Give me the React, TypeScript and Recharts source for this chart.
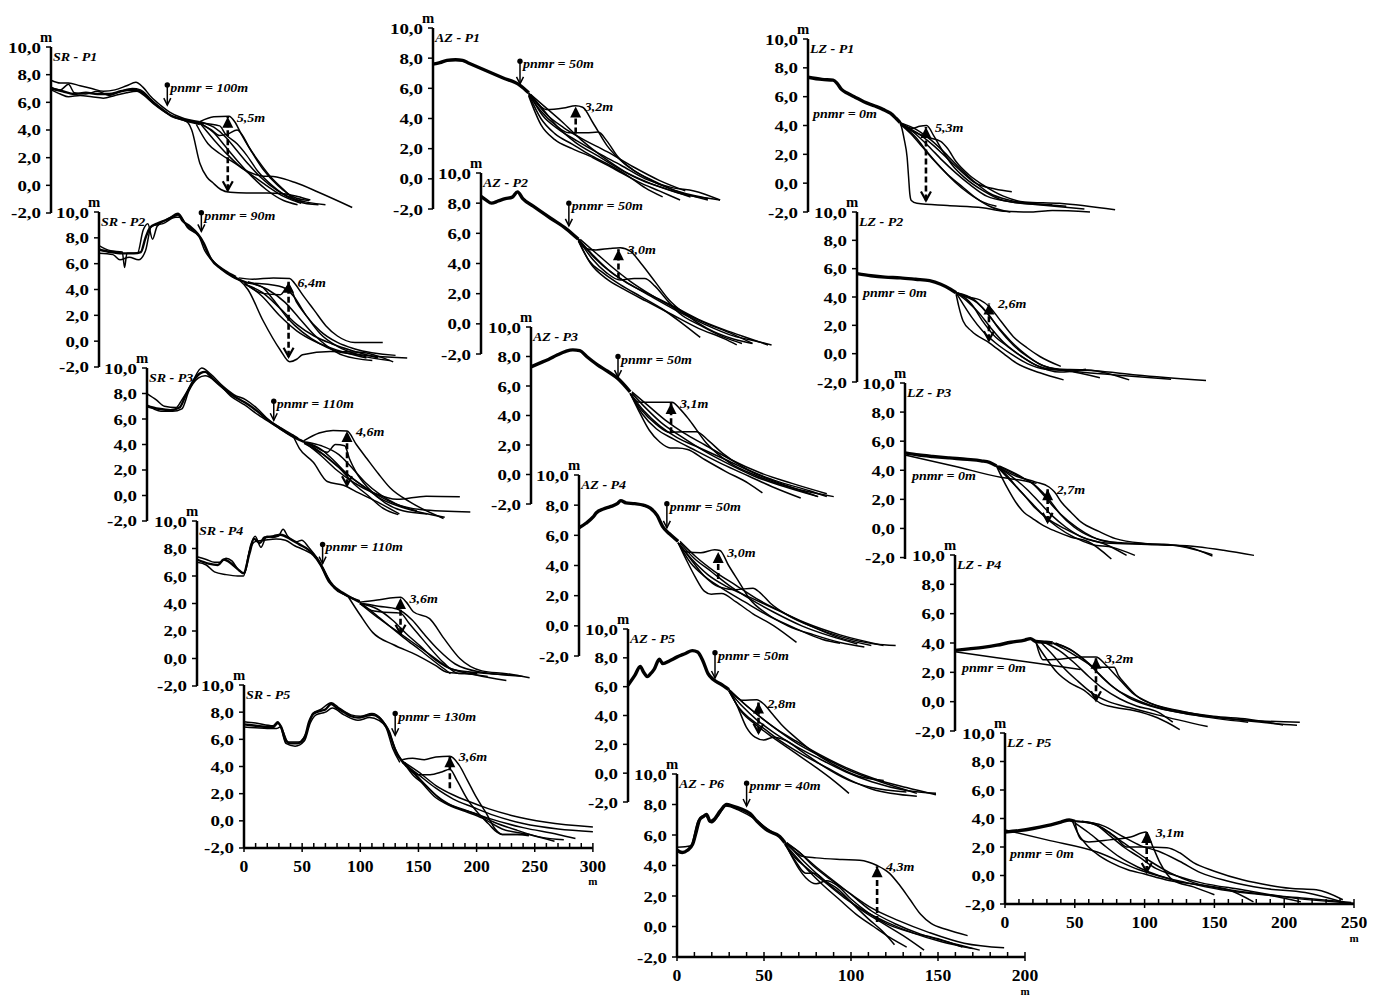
import React from 'react';
import { LineChart, Line, XAxis, YAxis, ReferenceLine, ReferenceDot } from 'recharts';

const FONT = '"Liberation Serif", "Times New Roman", serif';
const Y_TICKS = [-2, 0, 2, 4, 6, 8, 10];

// ---------- SR column ----------
const SR1_BUNDLE = [[0,7.0, 10,6.8, 20,6.6, 30,6.7, 40,6.6, 50,6.6, 60,6.8, 70,6.9, 77,6.8, 85,6.2, 94,5.6, 104,5.0, 114,4.75, 128,4.5]];
const SR1_LINES = [
  [0,7.6, 8,7.4, 15,7.4, 25,7.2, 35,7.0, 45,6.8, 55,6.9, 65,7.2, 73,7.45, 79,7.1, 86,6.4, 94,5.8, 102,5.3, 112,4.9, 128,4.6],
  [0,7.1, 8,6.9, 15,7.3, 20,6.7, 30,6.6, 40,6.8, 50,6.5, 60,6.8, 70,7.0, 77,6.9, 85,6.3, 94,5.6, 102,5.1, 112,4.8, 128,4.5],
  [0,6.9, 8,6.6, 15,6.4, 25,6.5, 35,6.4, 45,6.3, 55,6.5, 65,6.7, 74,6.8, 80,6.5, 88,5.9, 96,5.4, 104,5.0, 114,4.7, 128,4.4],
  [128,4.6, 140,4.95, 153,5.0, 158,4.6, 163,3.8, 172,2.5, 182,1.2, 195,0.0, 210,-0.9, 222,-1.1],
  [128,4.5, 138,4.0, 145,3.6, 152,3.7, 160,4.0, 164,3.7, 170,2.8, 178,1.8, 188,0.7, 200,-0.3, 213,-1.2, 230,-1.4],
  [114,4.7, 118,4.5, 121,4.0, 128,1.6, 134,0.6, 139,0.2, 146,-0.3, 154,-0.5, 168,-0.55, 185,-0.55, 200,-0.6, 212,-0.8, 223,-1.06],
  [128,4.5, 140,3.3, 152,2.2, 165,1.2, 180,0.7, 194,0.6, 210,0.2, 230,-0.5, 259,-1.6],
  [125,4.4, 135,3.0, 145,2.3, 158,1.6, 170,0.9, 185,0.0, 200,-0.8, 215,-1.3],
  [128,4.5, 140,3.8, 150,2.8, 160,1.8, 172,0.7, 185,-0.3, 200,-1.1, 212,-1.4],
  [128,4.6, 140,4.2, 150,3.5, 160,2.5, 170,1.5, 180,0.6, 195,-0.4, 210,-1.0, 236,-1.4],
  [128,4.5, 145,4.3, 150,3.7, 160,3.0, 168,2.2, 178,1.0, 190,0.0, 205,-0.9, 218,-1.2],
];

const SR2_BUNDLE = [[0,7.1, 10,6.9, 20,6.8, 30,6.8, 36,6.9, 40,8.0, 44,8.8, 50,9.1, 58,9.4, 65,9.7, 68,9.8, 72,9.3, 78,8.9, 85,8.3, 90,7.6, 96,6.4, 105,5.6, 115,5.0, 128,4.5]];
const SR2_LINES = [
  [0,7.4, 10,7.0, 20,6.9, 22,5.7, 24,6.8, 33,6.8, 38,8.6, 42,9.1, 46,7.9, 50,8.9, 60,9.5, 68,9.9, 75,9.0, 88,7.9, 93,6.9, 100,6.0, 110,5.3, 120,4.8],
  [0,6.8, 12,6.7, 18,6.3, 26,6.5, 34,6.3, 40,7.0, 45,8.9, 55,9.1, 66,9.6, 70,9.6, 76,8.8, 86,8.1, 91,7.0, 98,6.2, 108,5.5, 118,5.0],
  [120,4.9, 132,4.8, 150,4.9, 164,4.85, 168,4.5, 175,3.6, 185,2.4, 195,1.2, 205,0.4, 220,-0.1, 244,-0.1],
  [128,4.3, 141,3.7, 156,3.6, 163,4.3, 170,3.0, 178,2.0, 190,0.6, 205,-0.4, 225,-1.1, 250,-1.5],
  [115,5.0, 121,4.7, 128,4.0, 141,1.6, 156,-0.7, 164,-1.6, 170,-1.4, 175,-1.05, 199,-0.8, 225,-0.85, 253,-1.6],
  [125,4.5, 140,3.5, 155,2.0, 170,0.8, 185,0.0, 205,-0.7, 230,-1.3],
  [125,4.4, 140,3.8, 155,2.6, 170,1.3, 185,0.4, 200,-0.2, 220,-0.8, 240,-1.3],
  [128,4.6, 145,4.0, 160,3.0, 172,1.8, 185,0.5, 195,-0.3, 210,-1.1, 235,-1.5],
  [128,4.5, 140,4.2, 150,3.2, 162,1.8, 175,0.7, 190,-0.2, 210,-0.9, 265,-1.3],
  [128,4.5, 145,4.4, 160,4.1, 168,3.4, 178,2.0, 190,0.8, 205,-0.1, 220,-0.6, 255,-1.1],
];

const SR3_BUNDLE = [[0,7.0, 10,6.8, 20,6.7, 28,6.9, 33,7.8, 40,9.0, 46,9.6, 50,9.7, 56,9.2, 62,8.7, 70,8.1, 78,7.6, 86,7.2, 95,6.6, 103,6.0, 114,5.3, 126,4.6, 135,4.2]];
const SR3_LINES = [
  [0,8.0, 8,7.5, 15,7.0, 25,6.9, 30,7.5, 38,8.7, 47,10.0, 55,9.5, 65,8.6, 75,7.9, 85,7.5, 95,6.8, 105,5.9, 117,5.2, 130,4.5],
  [0,7.1, 12,6.6, 22,6.6, 30,6.8, 36,8.2, 44,9.2, 50,9.4, 60,8.9, 72,7.8, 84,7.1, 96,6.3, 108,5.6, 120,4.9, 133,4.3],
  [135,4.3, 148,4.9, 160,5.1, 172,5.05, 180,4.0, 189,2.9, 199,1.7, 209,0.6, 226,-0.5, 255,-1.8],
  [133,4.3, 145,3.8, 155,3.4, 162,4.0, 170,3.9, 174,2.9, 180,1.8, 190,0.6, 205,-0.6, 220,-1.2, 241,-1.45],
  [125,4.8, 131,3.7, 143,2.6, 155,1.1, 169,0.8, 182,0.2, 200,-0.6, 217,-1.45],
  [135,4.2, 150,3.1, 163,2.0, 178,1.0, 195,0.2, 215,-0.3, 240,-0.05, 269,-0.1],
  [135,4.1, 150,3.3, 165,2.2, 180,1.1, 195,0.2, 212,-0.6, 235,-1.1, 278,-1.3],
  [138,4.1, 152,3.2, 165,2.2, 178,0.9, 190,0.0, 203,-1.0, 216,-1.5],
  [136,4.2, 150,3.6, 160,2.8, 172,1.7, 185,0.8, 200,-0.2, 222,-1.0, 256,-1.7],
  [137,4.2, 150,3.9, 165,3.2, 175,2.3, 188,1.0, 200,0.1, 215,-0.7, 232,-1.2],
];

const SR4_BUNDLE = [[0,7.2, 10,6.9, 18,6.8, 23,7.2, 28,7.0, 35,6.5, 40,6.2, 45,7.6, 49,8.7, 54,8.4, 58,8.8, 66,8.9, 72,9.0, 80,8.7, 88,8.3, 96,7.9, 103,7.3, 108,6.6, 112,5.9, 117,5.3, 125,4.8, 133,4.4, 140,4.1]];
const SR4_LINES = [
  [0,7.4, 8,7.2, 15,7.0, 20,7.0, 25,7.3, 30,7.1, 36,6.4, 41,6.2, 46,8.2, 50,8.9, 55,8.1, 60,8.9, 65,8.8, 70,8.9, 74,9.4, 78,8.9, 86,8.5, 90,8.6, 96,8.1, 104,7.2, 110,6.3, 118,5.1, 128,4.6, 140,4.2],
  [0,7.0, 8,6.8, 15,6.3, 25,6.1, 35,6.0, 40,6.0, 45,7.8, 50,8.5, 58,8.6, 68,8.7, 76,8.6, 84,8.2, 92,7.9, 100,7.5, 106,6.8, 113,5.6, 122,4.9, 135,4.3],
  [140,4.1, 155,4.25, 166,4.4, 175,4.45, 180,4.1, 186,3.4, 200,2.9, 212,1.5, 226,0.0, 245,-0.9, 266,-1.1, 286,-1.4],
  [140,4.0, 150,3.5, 157,3.4, 175,3.3, 182,2.6, 190,1.8, 200,0.8, 212,-0.3, 225,-1.1, 241,-1.1],
  [130,4.5, 140,3.2, 151,1.9, 169,1.0, 189,0.25, 205,-0.5, 215,-1.0, 230,-1.1, 250,-1.3],
  [140,4.0, 155,3.0, 170,2.1, 185,1.2, 200,0.3, 215,-0.6, 240,-1.2, 266,-1.6],
  [140,4.1, 152,3.3, 165,2.4, 178,1.5, 192,0.6, 210,-0.6, 218,-1.1],
  [140,4.0, 155,3.6, 168,2.8, 180,1.8, 192,0.9, 205,-0.1, 220,-0.8, 250,-1.1, 280,-1.3],
  [142,4.0, 156,3.8, 172,3.6, 185,2.8, 195,1.8, 208,0.6, 222,-0.4, 245,-1.0, 270,-1.2],
];

const SR5_BUNDLE = [[0,7.1, 10,7.0, 20,6.9, 25,6.9, 29,7.2, 32,6.9, 36,5.9, 40,5.7, 46,5.7, 52,6.1, 56,7.3, 60,7.9, 66,8.1, 70,8.2, 75,8.6, 80,8.3, 86,8.0, 92,7.7, 98,7.6, 104,7.7, 110,7.8, 116,7.6, 121,7.1, 125,6.5, 128,5.7, 131,5.0, 135,4.5, 140,4.0]];
const SR5_LINES = [
  [0,7.3, 10,7.2, 25,7.0, 29,7.3, 33,6.7, 38,5.8, 47,5.8, 55,6.8, 59,7.9, 66,8.2, 75,8.7, 82,8.3, 92,7.8, 100,7.7, 110,7.9, 118,7.5, 124,6.7, 130,5.3, 136,4.4],
  [0,6.9, 10,6.85, 20,6.8, 28,6.8, 31,6.9, 36,5.7, 44,5.5, 52,5.9, 57,7.2, 62,7.8, 70,8.0, 76,8.3, 86,7.8, 98,7.4, 108,7.6, 116,7.4, 122,6.9, 128,5.3, 134,4.3],
  [136,4.5, 145,4.6, 155,4.5, 165,4.7, 177,4.75, 185,4.1, 192,3.0, 200,1.7, 208,0.6, 216,-0.6, 222,-1.0, 235,-1.0, 245,-1.1],
  [138,4.2, 150,3.4, 160,3.4, 170,3.6, 177,3.8, 183,3.0, 192,1.6, 200,0.7, 210,-0.2, 217,-0.8, 222,-1.0, 243,-1.0],
  [138,4.2, 146,3.3, 155,2.7, 165,1.9, 175,1.3, 190,0.8, 210,0.2, 240,-0.5, 270,-1.0, 285,-1.3],
  [136,4.4, 150,3.6, 165,2.6, 180,1.9, 194,1.4, 210,0.9, 230,0.4, 260,-0.1, 300,-0.45],
  [136,4.3, 150,3.4, 165,2.4, 180,1.6, 197,1.0, 215,0.4, 240,-0.2, 270,-0.6, 300,-0.8],
  [135,4.5, 145,3.6, 155,2.6, 165,1.7, 175,1.2, 190,0.7, 205,0.2, 222,-0.6, 245,-1.0, 267,-1.5],
  [138,4.3, 150,3.2, 160,2.3, 170,1.5, 185,0.9, 200,0.5, 215,-0.1, 235,-0.7, 255,-1.2, 275,-1.4],
];

// ---------- AZ column ----------
const AZ1_BUNDLE = [[0,7.6, 4,7.7, 8,7.85, 13,7.9, 17,7.85, 20,7.7, 30,7.2, 40,6.7, 50,6.2, 55,5.7]];
const AZ1_LINES = [
  [55,5.7, 60,5.0, 65,4.6, 75,4.7, 82,4.85, 86,4.75, 92,3.7, 100,2.2, 110,1.0, 122,0.1, 135,-0.6, 150,-1.1, 165,-1.4],
  [55,5.6, 62,4.5, 70,3.6, 78,3.05, 88,3.05, 95,3.1, 100,2.5, 106,1.5, 115,0.6, 128,-0.2, 142,-0.9, 158,-1.4],
  [55,5.6, 62,4.0, 70,3.0, 80,2.3, 90,1.6, 100,1.0, 112,0.2, 122,-0.6, 132,-1.2],
  [55,5.5, 62,3.6, 70,2.6, 80,2.0, 92,1.4, 105,0.6, 118,-0.2, 130,-0.8, 142,-1.4],
  [56,5.6, 64,4.5, 72,3.4, 82,2.4, 95,1.5, 108,0.6, 120,-0.1, 135,-0.7, 148,-1.2],
  [56,5.6, 64,4.8, 74,3.8, 85,2.6, 97,1.5, 110,0.5, 125,-0.3, 140,-0.9, 158,-1.3],
  [56,5.5, 63,4.2, 72,3.3, 83,2.5, 95,1.7, 108,0.9, 122,0.0, 138,-0.6, 150,-0.8, 165,-1.4],
  [55,5.7, 65,4.3, 75,3.4, 85,2.7, 100,1.8, 115,0.8, 130,-0.1, 145,-0.8],
];

const AZ2_BUNDLE = [[0,8.45, 3,8.2, 6,8.0, 10,8.15, 14,8.3, 18,8.4, 21,8.75, 24,8.3, 30,7.8, 40,7.0, 49,6.3, 56,5.6]];
const AZ2_LINES = [
  [56,5.6, 60,5.0, 66,4.9, 74,5.0, 80,5.05, 86,4.8, 92,4.0, 100,2.8, 108,1.6, 118,0.6, 130,-0.3, 145,-1.0, 156,-1.3],
  [56,5.6, 64,4.3, 72,3.4, 80,2.9, 88,3.0, 94,3.0, 100,2.5, 106,1.7, 114,0.7, 126,-0.1, 140,-0.9, 150,-1.3],
  [56,5.5, 62,4.2, 70,3.4, 80,2.6, 92,1.8, 104,1.0, 116,0.0, 126,-0.9],
  [56,5.5, 63,4.0, 72,3.0, 82,2.3, 95,1.5, 110,0.6, 125,-0.3, 140,-1.0, 147,-1.4],
  [56,5.6, 65,4.4, 75,3.4, 86,2.6, 98,1.8, 112,0.9, 128,0.0, 145,-0.8, 160,-1.2, 167,-1.4],
  [57,5.6, 66,4.7, 76,3.7, 86,2.8, 98,1.9, 112,1.0, 128,0.1, 145,-0.7, 156,-1.3],
  [56,5.6, 64,4.6, 73,3.6, 84,2.7, 96,2.0, 110,1.2, 125,0.3, 140,-0.4, 155,-1.0, 165,-1.4],
];

const AZ3_BUNDLE = [[0,7.3, 5,7.55, 10,7.8, 15,8.1, 20,8.35, 24,8.45, 28,8.4, 32,8.0, 38,7.45, 44,7.0, 50,6.5, 57,5.6]];
const AZ3_LINES = [
  [57,5.5, 62,4.9, 72,4.9, 81,4.9, 86,4.4, 91,3.7, 101,2.1, 114,0.8, 130,-0.1, 150,-0.9, 174,-1.5],
  [57,5.5, 64,4.3, 72,3.4, 80,2.85, 88,2.9, 95,2.9, 102,2.3, 110,1.45, 122,0.5, 140,-0.4, 160,-1.1, 170,-1.5],
  [57,5.5, 62,4.3, 68,3.0, 74,2.2, 80,1.8, 84,1.8, 90,1.7, 100,1.0, 112,0.2, 125,-0.6, 133,-1.25],
  [57,5.5, 64,4.1, 72,3.1, 82,2.4, 95,1.6, 110,0.7, 125,-0.1, 140,-0.9, 155,-1.6],
  [58,5.5, 66,4.5, 75,3.5, 86,2.6, 98,1.7, 112,0.8, 128,-0.1, 145,-0.8, 165,-1.5],
  [58,5.6, 67,4.7, 77,3.7, 88,2.8, 100,2.0, 115,1.0, 132,0.1, 150,-0.6, 170,-1.3],
  [57,5.5, 65,4.3, 74,3.3, 84,2.5, 97,1.8, 112,1.0, 130,0.0, 148,-0.8, 165,-1.5],
];

const AZ4_BUNDLE = [[0,6.5, 4,6.8, 8,7.2, 10,7.5, 14,7.75, 18,7.9, 22,8.1, 24,8.3, 27,8.15, 32,8.1, 37,8.0, 41,7.8, 45,7.3, 48,6.6, 52,6.1, 57,5.6]];
const AZ4_LINES = [
  [57,5.5, 62,4.9, 70,4.85, 78,5.05, 81,5.0, 86,4.0, 92,2.9, 98,1.8, 108,0.8, 120,0.0, 135,-0.6, 150,-1.1, 164,-1.4],
  [57,5.5, 65,4.3, 72,3.3, 80,2.6, 90,2.4, 100,2.5, 104,2.2, 110,1.5, 120,0.7, 135,-0.1, 150,-0.7, 170,-1.2, 182,-1.3],
  [57,5.5, 62,4.3, 67,3.2, 72,2.3, 76,2.1, 82,2.15, 90,1.6, 100,0.8, 112,0.0, 125,-1.1],
  [57,5.5, 64,4.2, 72,3.3, 82,2.5, 95,1.6, 110,0.6, 125,-0.2, 140,-0.9, 150,-1.15],
  [58,5.5, 66,4.5, 76,3.6, 86,2.7, 98,1.8, 112,0.9, 128,0.0, 145,-0.7, 160,-1.2],
  [58,5.6, 67,4.6, 78,3.6, 90,2.7, 102,1.8, 117,0.9, 133,0.0, 150,-0.8, 168,-1.3],
  [57,5.5, 65,4.4, 74,3.4, 85,2.6, 98,1.9, 113,1.1, 130,0.2, 150,-0.6, 175,-1.3],
];

const AZ5_BUNDLE = [[0,6.1, 4,6.8, 7,7.4, 9,7.0, 11,6.7, 13,6.9, 15,7.2, 18,7.9, 20,7.6, 24,7.8, 28,8.05, 33,8.3, 37,8.5, 40,8.4, 43,7.8, 46,6.9, 49,6.5, 53,6.2, 58,5.8]];
const AZ5_LINES = [
  [58,5.8, 62,5.3, 66,5.05, 74,5.1, 78,4.8, 83,4.1, 88,3.4, 95,2.6, 105,1.6, 118,0.6, 132,-0.2, 147,-0.5],
  [58,5.8, 63,4.6, 68,3.2, 73,2.5, 78,2.3, 84,2.5, 90,2.3, 100,1.5, 112,0.5, 127,-0.5, 140,-1.0, 160,-1.3],
  [58,5.7, 64,4.5, 70,3.8, 78,3.1, 88,2.2, 100,1.3, 114,0.4, 128,-0.5, 140,-1.1, 166,-1.6],
  [58,5.7, 66,4.6, 74,3.7, 84,2.8, 96,1.9, 110,1.0, 125,0.1, 140,-0.6, 160,-1.2, 177,-1.4],
  [59,5.7, 67,4.8, 76,3.9, 87,2.9, 98,2.0, 112,1.1, 127,0.2, 145,-0.6, 166,-1.4],
  [58,5.7, 65,4.3, 73,3.4, 83,2.5, 95,1.5, 108,0.4, 118,-0.5, 127,-1.4],
  [58,5.8, 66,4.9, 75,4.0, 86,3.0, 97,2.2, 110,1.3, 125,0.4, 142,-0.4, 160,-1.0, 177,-1.5],
];

const AZ6_BUNDLE = [[0,5.0, 3,4.85, 6,5.0, 9,5.4, 11,6.2, 13,7.0, 15,7.2, 17,7.35, 19,6.9, 21,7.0, 25,7.6, 28.5,8.0, 32,7.9, 37,7.7, 42,7.4, 46,6.9, 52,6.3, 59,5.9, 62,5.5]];
const AZ6_LINES = [
  [0,5.2, 8,5.3, 12,6.9, 16,7.3, 20,6.8, 24,7.3, 28,7.9, 36,7.6, 44,7.1, 52,6.4, 60,5.8],
  [62,5.5, 67,5.0, 72,4.6, 80,4.5, 95,4.4, 105,4.35, 115,4.0, 122,3.5, 128,2.7, 134,1.75, 140,0.8, 146,0.2, 155,-0.2, 167,-0.6],
  [62,5.5, 66,4.6, 70,3.8, 74,3.2, 80,2.8, 86,3.0, 92,2.7, 100,1.8, 110,0.9, 120,0.2, 135,-0.4, 150,-0.8, 164,-1.35],
  [62,5.4, 68,4.3, 74,3.5, 79,3.5, 85,3.0, 92,2.5, 100,1.6, 110,0.5, 118,-0.3, 125,-1.2],
  [62,5.4, 69,4.5, 76,3.6, 84,2.7, 93,1.8, 103,0.8, 113,0.0, 122,-0.7, 132,-1.35],
  [63,5.5, 70,4.6, 78,3.7, 87,2.8, 97,1.9, 107,1.0, 117,0.3, 130,-0.6, 142,-1.55],
  [63,5.5, 71,4.8, 80,3.9, 90,3.0, 100,2.1, 112,1.0, 125,0.2, 140,-0.5, 155,-1.0, 174,-1.55],
  [62,5.5, 70,4.9, 78,4.0, 88,3.1, 99,2.2, 112,1.2, 127,0.4, 145,-0.4, 165,-1.1, 188,-1.4],
  [62,5.4, 68,4.5, 75,3.8, 85,2.9, 96,1.9, 108,1.0, 120,0.3, 135,-0.4, 152,-1.0, 170,-1.45],
];

// ---------- LZ column ----------
const LZ1_BUNDLE = [[0,7.35, 10,7.2, 18,7.15, 21,6.9, 24,6.5, 28,6.25, 34,5.95, 40,5.65, 48,5.35, 54,5.1, 59,4.85, 63,4.5, 66,4.2]];
const LZ1_LINES = [
  [66,4.2, 67,3.9, 69,3.0, 71,1.8, 72,0.5, 73,-0.8, 74,-1.2, 78,-1.4, 100,-1.55, 125,-1.7, 140,-1.95, 160,-2.0, 175,-1.9, 202,-2.0],
  [66,4.2, 75,3.8, 80,3.95, 85,4.0, 90,3.3, 96,2.3, 103,1.3, 112,0.4, 125,-0.5, 140,-1.2, 160,-1.45, 175,-1.5],
  [66,4.1, 75,3.6, 85,3.2, 95,2.9, 100,2.4, 106,1.5, 115,0.6, 125,-0.1, 140,-0.9, 155,-1.3, 180,-1.4, 220,-1.85],
  [66,4.1, 74,3.4, 82,2.5, 90,1.6, 100,0.6, 110,-0.2, 120,-1.0, 130,-1.6, 145,-2.0],
  [66,4.2, 76,3.5, 86,2.6, 96,1.6, 106,0.7, 116,-0.1, 128,-0.9, 146,-1.3, 165,-1.5, 198,-1.8],
  [67,4.1, 78,3.5, 90,2.6, 100,1.7, 110,0.8, 120,0.0, 134,-0.4, 146,-0.6],
  [67,4.1, 77,3.2, 86,2.1, 95,1.1, 105,0.1, 115,-0.7, 125,-1.3, 135,-1.6],
  [66,4.2, 78,3.7, 88,3.0, 98,2.1, 108,1.1, 118,0.2, 130,-0.7, 145,-1.2, 165,-1.45, 185,-1.6],
];

const LZ2_BUNDLE = [[0,5.65, 10,5.5, 20,5.4, 31,5.35, 42,5.25, 52,5.15, 60,4.9, 67,4.55, 71,4.3]];
const LZ2_LINES = [
  [71,4.2, 73,3.3, 76,2.3, 82,1.6, 95,0.75, 105,0.0, 114,-0.65, 131,-1.35, 148,-1.85],
  [71,4.3, 80,4.0, 88,3.8, 95,3.3, 103,2.3, 112,1.2, 122,0.4, 131,-0.2, 146,-0.9],
  [71,4.3, 76,3.5, 82,2.6, 90,1.6, 100,0.7, 110,0.0, 122,-0.7, 135,-1.1, 150,-1.2, 174,-1.7],
  [71,4.3, 80,3.6, 88,2.8, 96,1.8, 105,0.8, 115,0.0, 126,-0.7, 140,-1.1, 165,-1.15, 195,-1.85],
  [71,4.3, 84,3.8, 92,3.0, 100,2.0, 110,0.9, 120,0.0, 132,-0.8, 145,-1.1, 170,-1.2, 200,-1.5, 250,-1.9],
  [72,4.3, 82,3.5, 90,2.3, 98,1.3, 108,0.5, 118,-0.2, 130,-0.9, 145,-1.3, 164,-1.1],
  [72,4.2, 86,3.6, 94,2.8, 102,1.7, 112,0.6, 122,-0.2, 138,-1.0, 160,-1.3, 185,-1.5, 225,-1.8],
];

const LZ3_BUNDLE = [[0,5.2, 10,5.05, 20,4.95, 32,4.85, 45,4.75, 55,4.65, 61,4.55, 66,4.3]];
const LZ3_LINES = [
  [0,5.05, 35,4.3, 70,3.5, 85,3.3, 95,3.1],
  [66,4.3, 70,3.5, 75,2.6, 80,1.8, 86,1.1, 92,0.7, 100,0.2, 109,-0.2, 120,-0.6, 132,-0.9, 149,-2.1],
  [66,4.3, 80,3.6, 94,3.2, 104,2.85, 108,2.5, 113,1.8, 120,1.1, 127,0.45, 140,-0.2, 152,-0.7, 175,-1.05, 211,-1.25, 230,-1.5, 252,-1.85],
  [66,4.3, 74,3.6, 82,2.7, 92,1.7, 100,0.9, 110,0.1, 122,-0.6, 135,-1.1, 150,-1.3, 166,-1.85],
  [66,4.3, 78,3.5, 88,2.7, 97,1.8, 106,0.9, 116,0.1, 128,-0.6, 145,-1.0, 175,-1.1, 200,-1.2, 222,-1.9],
  [67,4.3, 82,3.6, 92,3.1, 100,2.3, 108,1.4, 118,0.5, 130,-0.3, 145,-0.9, 160,-1.0, 190,-1.1, 222,-1.8],
  [67,4.2, 76,3.3, 85,2.4, 94,1.4, 104,0.6, 115,0.0, 128,-0.6, 145,-1.1, 160,-1.85],
  [68,4.3, 85,3.5, 96,2.8, 104,2.0, 112,1.0, 122,0.1, 135,-0.6, 155,-1.0],
];

const LZ4_BUNDLE = [[0,3.5, 10,3.6, 20,3.7, 30,3.85, 40,4.05, 50,4.2, 54,4.3, 58,4.1, 65,4.05, 70,4.0]];
const LZ4_LINES = [
  [0,3.4, 30,3.0, 60,2.6, 75,2.4, 90,2.2],
  [58,4.1, 60,3.4, 63,2.85, 75,2.9, 92,3.05, 101,3.05, 108,2.5, 116,1.7, 127,0.6, 140,-0.1, 160,-0.6, 185,-1.0, 210,-1.2, 235,-1.6],
  [70,4.0, 80,3.5, 92,2.8, 101,2.35, 114,2.35, 117,1.8, 122,1.2, 130,0.4, 145,-0.3, 170,-0.8, 200,-1.2, 247,-1.4],
  [58,4.0, 65,3.0, 73,2.0, 82,1.3, 92,0.8, 104,-0.1, 115,-0.4, 128,-0.6, 145,-1.1, 161,-1.9],
  [62,4.0, 70,3.2, 78,2.3, 88,1.4, 98,0.6, 110,0.0, 125,-0.4, 145,-0.9, 181,-1.7],
  [65,4.0, 76,3.4, 86,2.6, 96,1.7, 106,0.9, 118,0.2, 130,-0.3, 145,-0.7, 156,-1.4],
  [70,4.0, 82,3.6, 92,2.9, 102,2.0, 112,1.1, 124,0.3, 140,-0.3, 165,-0.8, 200,-1.2, 230,-1.5, 245,-1.6],
  [72,4.0, 85,3.4, 96,2.6, 106,1.6, 116,0.8, 128,0.2, 145,-0.4, 170,-0.9, 210,-1.4],
];

const LZ5_BUNDLE = [[0,3.05, 10,3.15, 20,3.3, 30,3.5, 40,3.75, 46,3.9, 50,3.8]];
const LZ5_LINES = [
  [0,3.2, 30,2.5, 66,1.65, 96,0.4, 120,-0.3],
  [50,3.8, 52,3.0, 55,2.5, 60,2.35, 75,2.5, 90,2.7, 101,3.05, 106,2.0, 111,0.9, 120,-0.3, 135,-0.8, 150,-1.35],
  [50,3.8, 60,3.7, 70,3.3, 80,2.6, 87,2.0, 100,2.0, 116,1.95, 125,1.6, 135,0.9, 150,0.3, 170,-0.3, 190,-0.7, 204,-0.9, 223,-1.0, 242,-1.7],
  [50,3.8, 62,3.7, 72,3.2, 82,2.5, 92,1.8, 104,1.0, 118,0.2, 135,-0.5, 160,-1.0, 190,-1.4, 212,-1.85],
  [48,3.9, 52,3.0, 58,2.2, 66,1.5, 76,0.9, 88,0.4, 100,0.1, 115,-0.3, 135,-0.6, 160,-1.0, 178,-1.85],
  [50,3.8, 64,3.6, 75,2.8, 85,2.0, 96,1.3, 108,0.5, 122,0.0, 140,-0.5, 170,-1.0, 200,-1.5, 250,-1.95],
  [50,3.7, 60,3.0, 70,2.2, 82,1.3, 95,0.6, 110,0.0, 130,-0.5, 155,-1.0, 180,-1.3, 215,-1.6, 248,-1.9],
  [55,3.8, 70,3.5, 85,2.7, 97,2.1, 110,1.7, 125,1.0, 140,0.2, 160,-0.4, 185,-0.9, 215,-1.2, 243,-1.9],
];

// ---------- panel annotations ----------
type Pnmr = { x: number; top: number; tip: number; label: string };
type Range = { x: number; top: number; bottom: number; label: string; bottomHead: boolean };
type Note = { x: number; y: number; label: string };

type Cfg = {
  title: string; axisX: number; topY: number; h: number; sx: number; xMax: number;
  bundle: number[][]; lines: number[][]; bw: number; xAxis: boolean;
  pnmr?: Pnmr; range: Range; note?: Note;
};

const SR = { sx: 1.163, xMax: 300, bw: 2.4 };
const AZ = { sx: 1.74, xMax: 200, bw: 3.4 };
const LZ = { sx: 1.396, xMax: 250, bw: 3.4 };

const PANELS: Cfg[] = [
  { ...SR, title: 'SR - P1', axisX: 51, topY: 47, h: 166, bundle: SR1_BUNDLE, lines: SR1_LINES, xAxis: false,
    pnmr: { x: 100, top: 7.25, tip: 5.8, label: 'pnmr = 100m' }, range: { x: 152, top: 4.95, bottom: -0.35, label: '5,5m', bottomHead: true } },
  { ...SR, title: 'SR - P2', axisX: 99, topY: 212, h: 155, bundle: SR2_BUNDLE, lines: SR2_LINES, xAxis: false,
    pnmr: { x: 88, top: 9.95, tip: 8.5, label: 'pnmr = 90m' }, range: { x: 163, top: 4.6, bottom: -1.2, label: '6,4m', bottomHead: true } },
  { ...SR, title: 'SR - P3', axisX: 147, topY: 368, h: 153, bundle: SR3_BUNDLE, lines: SR3_LINES, xAxis: false,
    pnmr: { x: 109, top: 7.4, tip: 5.9, label: 'pnmr = 110m' }, range: { x: 172, top: 5.05, bottom: 0.8, label: '4,6m', bottomHead: true } },
  { ...SR, title: 'SR - P4', axisX: 197, topY: 521, h: 165, bundle: SR4_BUNDLE, lines: SR4_LINES, xAxis: false,
    pnmr: { x: 108, top: 8.3, tip: 6.9, label: 'pnmr = 110m' }, range: { x: 175, top: 4.4, bottom: 1.8, label: '3,6m', bottomHead: true } },
  { ...SR, title: 'SR - P5', axisX: 244, topY: 685, h: 163, bundle: SR5_BUNDLE, lines: SR5_LINES, xAxis: true,
    pnmr: { x: 130, top: 7.9, tip: 6.3, label: 'pnmr = 130m' }, range: { x: 177, top: 4.75, bottom: 2.4, label: '3,6m', bottomHead: false } },

  { ...AZ, title: 'AZ - P1', axisX: 433, topY: 28, h: 181, bundle: AZ1_BUNDLE, lines: AZ1_LINES, xAxis: false,
    pnmr: { x: 50, top: 7.8, tip: 6.3, label: 'pnmr = 50m' }, range: { x: 82, top: 4.8, bottom: 3.0, label: '3,2m', bottomHead: false } },
  { ...AZ, title: 'AZ - P2', axisX: 481, topY: 173, h: 181, bundle: AZ2_BUNDLE, lines: AZ2_LINES, xAxis: false,
    pnmr: { x: 50.5, top: 8.0, tip: 6.5, label: 'pnmr = 50m' }, range: { x: 79, top: 4.95, bottom: 3.0, label: '3,0m', bottomHead: false } },
  { ...AZ, title: 'AZ - P3', axisX: 531, topY: 327, h: 177, bundle: AZ3_BUNDLE, lines: AZ3_LINES, xAxis: false,
    pnmr: { x: 50, top: 8.0, tip: 6.6, label: 'pnmr = 50m' }, range: { x: 80.5, top: 4.85, bottom: 2.8, label: '3,1m', bottomHead: false } },
  { ...AZ, title: 'AZ - P4', axisX: 579, topY: 475, h: 181, bundle: AZ4_BUNDLE, lines: AZ4_LINES, xAxis: false,
    pnmr: { x: 50.5, top: 8.1, tip: 6.5, label: 'pnmr = 50m' }, range: { x: 80, top: 4.9, bottom: 3.1, label: '3,0m', bottomHead: false } },
  { ...AZ, title: 'AZ - P5', axisX: 628, topY: 629, h: 173, bundle: AZ5_BUNDLE, lines: AZ5_LINES, xAxis: false,
    pnmr: { x: 50, top: 8.35, tip: 6.6, label: 'pnmr = 50m' }, range: { x: 75, top: 4.9, bottom: 2.8, label: '2,8m', bottomHead: true } },
  { ...AZ, title: 'AZ - P6', axisX: 677, topY: 774, h: 183, bundle: AZ6_BUNDLE, lines: AZ6_LINES, xAxis: true,
    pnmr: { x: 40, top: 9.4, tip: 7.9, label: 'pnmr = 40m' }, range: { x: 115, top: 3.95, bottom: 0.3, label: '4,3m', bottomHead: false } },

  { ...LZ, title: 'LZ - P1', axisX: 808, topY: 39, h: 173, bundle: LZ1_BUNDLE, lines: LZ1_LINES, xAxis: false,
    note: { x: 3.6, y: 4.5, label: 'pnmr = 0m' }, range: { x: 84.5, top: 3.9, bottom: -1.2, label: '5,3m', bottomHead: true } },
  { ...LZ, title: 'LZ - P2', axisX: 857, topY: 212, h: 170, bundle: LZ2_BUNDLE, lines: LZ2_LINES, xAxis: false,
    note: { x: 4.3, y: 4.0, label: 'pnmr = 0m' }, range: { x: 94.5, top: 3.55, bottom: 0.95, label: '2,6m', bottomHead: true } },
  { ...LZ, title: 'LZ - P3', axisX: 905, topY: 383, h: 176, bundle: LZ3_BUNDLE, lines: LZ3_LINES, xAxis: false,
    note: { x: 5, y: 3.3, label: 'pnmr = 0m' }, range: { x: 103, top: 2.7, bottom: 0.45, label: '2,7m', bottomHead: true } },
  { ...LZ, title: 'LZ - P4', axisX: 955, topY: 555, h: 176, bundle: LZ4_BUNDLE, lines: LZ4_LINES, xAxis: false,
    note: { x: 5, y: 2.0, label: 'pnmr = 0m' }, range: { x: 101, top: 3.0, bottom: 0.1, label: '3,2m', bottomHead: true } },
  { ...LZ, title: 'LZ - P5', axisX: 1005, topY: 733, h: 171, bundle: LZ5_BUNDLE, lines: LZ5_LINES, xAxis: true,
    note: { x: 3.6, y: 1.2, label: 'pnmr = 0m' }, range: { x: 101.5, top: 3.05, bottom: 0.25, label: '3,1m', bottomHead: true } },
];

// ---------- rendering ----------
const YW = 64, MT = 20, MR = 70, MB = 12, XH = 40;

const pts = (a: number[]) => {
  const r: { x: number; y: number }[] = [];
  for (let i = 0; i < a.length; i += 2) r.push({ x: a[i], y: a[i + 1] });
  return r;
};

const T = ({ x, y, s = 1.12, size = 12.5, anchor = 'start', italic = true, children }: any) => (
  <text transform={`translate(${x},${y}) scale(${s},1)`} textAnchor={anchor} fontFamily={FONT}
    fontWeight="bold" fontStyle={italic ? 'italic' : 'normal'} fontSize={size} fill="#000">{children}</text>
);

const YTick = (props: any) => {
  const { x, y, payload } = props;
  const v = payload.value as number;
  const s = v.toFixed(1).replace('.', ',');
  return (
    <g>
      <T x={x} y={y + 5.5} s={1.22} size={15.5} anchor="end" italic={false}>{s}</T>
      {v === 10 && <T x={x - 1} y={y - 5} s={1.05} size={14} italic={false}>m</T>}
    </g>
  );
};

const XTick = (props: any) => {
  const { x, y, payload, xMax } = props;
  const v = payload.value as number;
  const major = v % 50 === 0;
  return (
    <g>
      <line x1={x} x2={x} y1={major ? y + 4 : y} y2={y - 5} stroke="#000" strokeWidth={1.5} />
      {major && <T x={x} y={y + 24} s={1.1} size={16} anchor="middle" italic={false}>{v}</T>}
      {v === xMax && <T x={x} y={y + 37.5} s={1.05} size={10.5} anchor="middle" italic={false}>m</T>}
    </g>
  );
};

function Panel({ c }: { c: Cfg }) {
  const plotW = c.xMax * c.sx;
  const W = YW + plotW + MR;
  const H = MT + c.h + (c.xAxis ? XH : MB);
  const xt: number[] = [];
  for (let v = 0; v <= c.xMax; v += 10) xt.push(v);
  return (
    <div style={{ position: 'absolute', left: c.axisX - YW, top: c.topY - MT }}>
      <LineChart width={W} height={H} margin={{ top: MT, right: MR, left: 0, bottom: c.xAxis ? 0 : MB }}>
        <XAxis type="number" dataKey="x" domain={[0, c.xMax]} hide={!c.xAxis} ticks={xt} interval={0}
          tickSize={0} tickMargin={0} height={XH} tickLine={false}
          axisLine={{ stroke: '#000', strokeWidth: 2.5 }} tick={<XTick xMax={c.xMax} />} />
        <YAxis type="number" domain={[-2, 10]} ticks={Y_TICKS} interval={0} width={YW}
          tickSize={5} tickMargin={5} axisLine={{ stroke: '#000', strokeWidth: 2.5 }}
          tickLine={{ stroke: '#000', strokeWidth: 1.5 }} tick={<YTick />} />
        {c.lines.map((l, i) => (
          <Line key={'l' + i} data={pts(l)} dataKey="y" type="monotone" stroke="#000" strokeWidth={1.5}
            dot={false} activeDot={false} isAnimationActive={false} />
        ))}
        {c.bundle.map((l, i) => (
          <Line key={'b' + i} data={pts(l)} dataKey="y" type="monotone" stroke="#000" strokeWidth={c.bw}
            dot={false} activeDot={false} isAnimationActive={false} />
        ))}
        <ReferenceDot x={0} y={10} r={0}
          shape={(p: any) => <T x={p.cx + 2} y={p.cy + 14}>{c.title}</T>} />
        {c.pnmr && (
          <ReferenceLine segment={[{ x: c.pnmr.x, y: c.pnmr.top }, { x: c.pnmr.x, y: c.pnmr.tip }]}
            stroke="#000" strokeWidth={1.5} />
        )}
        {c.pnmr && (
          <ReferenceDot x={c.pnmr.x} y={c.pnmr.top} r={0}
            shape={(p: any) => (
              <g>
                <circle cx={p.cx} cy={p.cy} r={2.7} fill="#000" />
                <T x={p.cx + 3} y={p.cy + 7}>{c.pnmr!.label}</T>
              </g>
            )} />
        )}
        {c.pnmr && (
          <ReferenceDot x={c.pnmr.x} y={c.pnmr.tip} r={0}
            shape={(p: any) => (
              <path d={`M${p.cx - 3.5},${p.cy - 7} L${p.cx},${p.cy} L${p.cx + 3.5},${p.cy - 7}`}
                fill="none" stroke="#000" strokeWidth={1.5} />
            )} />
        )}
        {c.note && (
          <ReferenceDot x={c.note.x} y={c.note.y} r={0}
            shape={(p: any) => <T x={p.cx} y={p.cy}>{c.note!.label}</T>} />
        )}
        <ReferenceLine segment={[{ x: c.range.x, y: c.range.bottom }, { x: c.range.x, y: c.range.top }]}
          stroke="#000" strokeWidth={2.6} strokeDasharray="6 3" />
        <ReferenceDot x={c.range.x} y={c.range.top} r={0}
          shape={(p: any) => (
            <g>
              <path d={`M${p.cx},${p.cy} L${p.cx - 5.5},${p.cy + 11} L${p.cx + 5.5},${p.cy + 11} Z`} fill="#000" />
              <T x={p.cx + 9} y={p.cy + 5}>{c.range.label}</T>
            </g>
          )} />
        {c.range.bottomHead && (
          <ReferenceDot x={c.range.x} y={c.range.bottom} r={0}
            shape={(p: any) => (
              <path d={`M${p.cx - 5},${p.cy - 9} L${p.cx},${p.cy} L${p.cx + 5},${p.cy - 9}`}
                fill="none" stroke="#000" strokeWidth={2.2} />
            )} />
        )}
      </LineChart>
    </div>
  );
}

export default function App() {
  return (
    <div style={{ position: 'absolute', left: 0, top: 0, width: 1382, height: 997, background: '#fff', overflow: 'hidden' }}>
      {PANELS.map((c) => <Panel key={c.title} c={c} />)}
    </div>
  );
}
